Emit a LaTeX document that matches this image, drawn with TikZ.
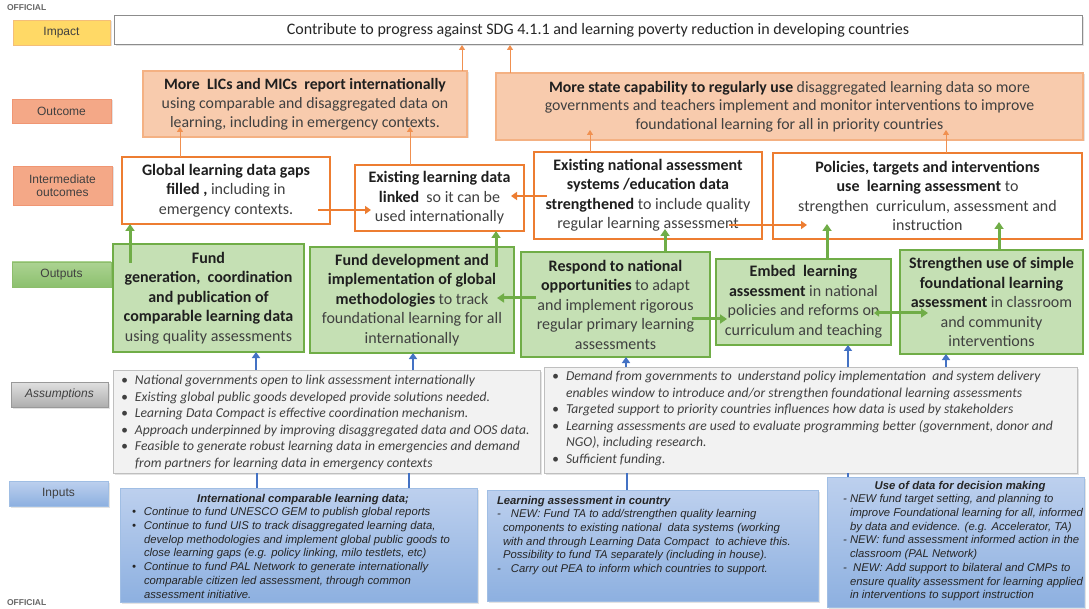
\documentclass[tikz,border=0pt]{standalone}
\usepackage{fontspec}
\setmainfont{Carlito}
\newfontfamily\arialf{Liberation Sans}
\usetikzlibrary{arrows.meta,shadows}

\definecolor{ioorange}{RGB}{237,125,49}
\definecolor{ocfill}{RGB}{248,203,173}
\definecolor{ocdraw}{RGB}{244,177,131}
\definecolor{salmon}{RGB}{244,168,135}
\definecolor{salmondraw}{RGB}{240,150,115}
\definecolor{outgreen}{RGB}{112,173,71}
\definecolor{outfill}{RGB}{197,224,180}
\definecolor{asmfill}{RGB}{242,242,242}
\definecolor{asmdraw}{RGB}{191,191,191}
\definecolor{arrblue}{RGB}{68,114,196}
\definecolor{intop}{RGB}{189,208,238}
\definecolor{inbot}{RGB}{141,176,224}
\definecolor{indraw}{RGB}{160,190,228}
\definecolor{txt}{RGB}{64,64,64}
\definecolor{darktxt}{RGB}{38,38,38}
\definecolor{impyellow}{RGB}{255,217,102}
\definecolor{impdraw}{RGB}{244,190,120}

% bold lead-in words
\newcommand{\hb}[1]{{\bfseries\color{black!88}#1}}
% bullet and continuation indents for the lists
\newcommand{\bul}{\makebox[14pt][l]{\textbullet}}
\newcommand{\cont}{\hspace*{14pt}}
\newcommand{\inbul}{\makebox[12pt][l]{\textbullet}}
\newcommand{\incont}{\hspace*{12pt}}
\newcommand{\dshA}{\makebox[14pt][l]{-}}
\newcommand{\dcontA}{\hspace*{6pt}}
\newcommand{\dshB}{\makebox[7pt][l]{-}}
\newcommand{\dcontB}{\hspace*{7pt}}
% box placed by its top-left and bottom-right corners
\newcommand{\rbox}[7]{\node[#1, anchor=north west, minimum width={#5-#3}, minimum height={#6-#4}] (#2) at (#3,#4) {#7};}

\tikzset{
  every node/.style={inner sep=0pt, outer sep=0pt, text=txt},
  softshadow/.style={drop shadow={opacity=0.22, shadow xshift=1.5pt, shadow yshift=-1.5pt}},
  lbl/.style={font=\arialf\fontsize{12}{13.5}\selectfont, align=center, text=txt, line width=0.8pt, softshadow},
  impbox/.style={draw=black!45, line width=1pt, fill=white, font=\fontsize{16}{19}\selectfont, text=darktxt, softshadow},
  ocbox/.style={draw=ocdraw, fill=ocfill, line width=1.2pt, align=center, font=\fontsize{15.8}{19}\selectfont, softshadow},
  iobox/.style={draw=ioorange, fill=white, line width=2.4pt, align=center, font=\fontsize{16}{19.5}\selectfont},
  outbox/.style={draw=outgreen, fill=outfill, line width=2.8pt, align=center, font=\fontsize{16}{19.5}\selectfont},
  asmbox/.style={draw=asmdraw, fill=asmfill, line width=0.8pt, softshadow},
  asmtext/.style={align=left, font=\itshape\fontsize{13.6}{16.6}\selectfont, text=txt},
  inbox/.style={draw=indraw, top color=intop, bottom color=inbot, line width=0.8pt, softshadow},
  intext/.style={align=left, font=\arialf\itshape\fontsize{11.3}{13.7}\selectfont, text=darktxt},
  thinarrow/.style={draw=ioorange!85, line width=1pt, -{Triangle[width=6pt,length=5pt]}},
  oarrow/.style={draw=ioorange, line width=2.2pt, -{Triangle[width=8pt,length=6pt]}},
  garrow/.style={draw=outgreen, line width=3pt, -{Triangle[width=9pt,length=7pt]}},
  gdarrow/.style={draw=outgreen, line width=3pt, {Triangle[width=7pt,length=5pt]}-{Triangle[width=9pt,length=7pt]}},
  barrow/.style={draw=arrblue, line width=2.5pt, -{Triangle[width=8pt,length=6pt]}},
  bline/.style={draw=arrblue, line width=2.5pt},
  official/.style={font=\arialf\bfseries\fontsize{8.5}{9}\selectfont, text=black!60, anchor=west}
}

\begin{document}
\begin{tikzpicture}[x=1pt,y=-1pt]
\useasboundingbox (0,0) rectangle (1089,609);
\fill[white] (0,0) rectangle (1089,609);

\node[official] (offtop) at (7,8) {OFFICIAL};
\node[official] (offbot) at (7,603) {OFFICIAL};

% ---------- row labels ----------
\rbox{lbl, draw=impdraw, fill=impyellow}{limp}{13}{20}{110}{45}{Impact}
\rbox{lbl, draw=salmondraw, fill=salmon}{loc}{12}{99}{111}{123}{Outcome}
\rbox{lbl, draw=salmondraw, fill=salmon}{lio}{13}{166}{112}{205}{Intermediate\\outcomes}
\rbox{lbl, draw=outgreen!80, top color={rgb,255:red,172;green,211;blue,146}, bottom color={rgb,255:red,140;green,192;blue,110}}{lout}{12}{262}{111}{287}{Outputs}
\rbox{lbl, draw=black!40, top color=black!12, bottom color=black!32, font=\arialf\itshape\fontsize{12}{13.5}\selectfont}{lasm}{11}{382}{108}{407}{Assumptions}
\rbox{lbl, draw=indraw, top color=intop, bottom color=inbot}{lin}{9}{481}{108}{506}{Inputs}

% ---------- impact ----------
\rbox{impbox}{imp}{114}{16}{1082}{45}{Contribute to progress against SDG 4.1.1 and learning poverty reduction in developing countries}

% ---------- outcomes ----------
\rbox{ocbox}{oc1}{143}{71}{467}{137}{\hb{More\ \ LICs and MICs\ \ report internationally}\\using comparable and disaggregated data on\\learning, including in emergency contexts.}
\rbox{ocbox, font=\fontsize{15.8}{18.5}\selectfont}{oc2}{496}{73}{1083}{140}{\hb{More state capability to regularly use} disaggregated learning data so more\\governments and teachers implement and monitor interventions to improve\\foundational learning for all in priority countries}

% ---------- intermediate outcomes ----------
\rbox{iobox}{io1}{122}{157}{330}{224}{\hb{Global learning data gaps}\\\hb{filled ,} including in\\emergency contexts.}
\rbox{iobox}{io2}{355}{165}{524}{231}{\hb{Existing learning data}\\\hb{linked}\ \ so it can be\\used internationally}
\rbox{iobox}{io3}{534}{152}{762}{239}{\hb{Existing national assessment}\\\hb{systems /education data}\\\hb{strengthened} to include quality\\regular learning assessment}
\rbox{iobox}{io4}{773}{153}{1082}{239}{\hb{Policies, targets and interventions}\\\hb{use\ \ learning assessment} to\\strengthen\ \ curriculum, assessment and\\instruction}

% ---------- outputs ----------
\rbox{outbox}{o1}{113}{244}{304}{352}{\hb{Fund}\\\hb{generation,\ \ coordination}\\\hb{and publication of}\\\hb{comparable learning data}\\using quality assessments}
\rbox{outbox}{o2}{310}{247}{514}{353}{\hb{Fund development and}\\\hb{implementation of global}\\\hb{methodologies} to track\\foundational learning for all\\internationally}
\rbox{outbox}{o3}{521}{252}{710}{357}{\hb{Respond to national}\\\hb{opportunities} to adapt\\and implement rigorous\\regular primary learning\\assessments}
\rbox{outbox}{o4}{716}{259}{891}{345}{\hb{Embed\ \ learning}\\\hb{assessment} in national\\policies and reforms on\\curriculum and teaching}
\rbox{outbox}{o5}{900}{250}{1083}{354}{\hb{Strengthen use of simple}\\\hb{foundational learning}\\\hb{assessment} in classroom\\and community\\interventions}

% ---------- assumptions ----------
\rbox{asmbox}{asmL}{113}{370}{540}{473}{}
\rbox{asmbox}{asmR}{544}{367}{1077}{473}{}
\node[asmtext, anchor=north west] (asmLt) at ([xshift=8pt,yshift=-5pt]asmL.north west) {%
\bul National governments open to link assessment internationally\\
\bul Existing global public goods developed provide solutions needed.\\
\bul Learning Data Compact is effective coordination mechanism.\\
\bul Approach underpinned by improving disaggregated data and OOS data.\\
\bul Feasible to generate robust learning data in emergencies and demand\\
\cont from partners for learning data in emergency contexts};
\node[asmtext, anchor=north west] (asmRt) at ([xshift=8pt,yshift=-4pt]asmR.north west) {%
\bul Demand from governments to\ \ understand policy implementation\ \ and system delivery\\
\cont enables window to introduce and/or strengthen foundational learning assessments\\
\bul Targeted support to priority countries influences how data is used by stakeholders\\
\bul Learning assessments are used to evaluate programming better (government, donor and\\
\cont NGO), including research.\\
\bul Sufficient funding.};

% ---------- inputs ----------
\rbox{inbox}{in1}{120}{488}{477}{602}{}
\rbox{inbox}{in2}{487}{490}{818}{601}{}
\rbox{inbox}{in3}{827}{477}{1084}{607}{}
\node[intext, anchor=north west] (in1t) at ([xshift=12pt,yshift=-6pt]in1.north west) {%
\makebox[342pt][c]{\bfseries International comparable learning data;}\\
\inbul Continue to fund UNESCO GEM to publish global reports\\
\inbul Continue to fund UIS to track disaggregated learning data,\\
\incont develop methodologies and implement global public goods to\\
\incont close learning gaps (e.g. policy linking, milo testlets, etc)\\
\inbul Continue to fund PAL Network to generate internationally\\
\incont comparable citizen led assessment, through common\\
\incont assessment initiative.};
\node[intext, anchor=north west] (in2t) at ([xshift=10pt,yshift=-6pt]in2.north west) {%
{\bfseries Learning assessment in country}\\
\dshA NEW: Fund TA to add/strengthen quality learning\\
\dcontA components to existing national\ \ data systems (working\\
\dcontA with and through Learning Data Compact\ \ to achieve this.\\
\dcontA Possibility to fund TA separately (including in house).\\
\dshA Carry out PEA to inform which countries to support.};
\node[intext, anchor=north west] (in3t) at ([xshift=16pt,yshift=-4pt]in3.north west) {%
\makebox[234pt][c]{\bfseries Use of data for decision making}\\
\dshB NEW fund target setting, and planning to\\
\dcontB improve Foundational learning for all, informed\\
\dcontB by data and evidence. (e.g. Accelerator, TA)\\
\dshB NEW: fund assessment informed action in the\\
\dcontB classroom (PAL Network)\\
\dshB\ NEW: Add support to bilateral and CMPs to\\
\dcontB ensure quality assessment for learning applied\\
\dcontB in interventions to support instruction};

% ---------- outcomes to impact ----------
\draw[thinarrow] ([xshift=319pt]oc1.north west) -- ([xshift=348pt]imp.south west);
\draw[thinarrow] ([xshift=14pt]oc2.north west) -- ([xshift=396pt]imp.south west);

% ---------- intermediate outcomes to outcomes ----------
\draw[thinarrow] ([xshift=58pt]io1.north west) -- ([xshift=37pt,yshift=-56pt]oc1.north west);
\draw[thinarrow] ([xshift=55pt]io2.north west) -- ([xshift=267pt,yshift=-56pt]oc1.north west);
\draw[thinarrow] ([xshift=56pt]io3.north west) -- ([xshift=94pt,yshift=-57pt]oc2.north west);
\draw[thinarrow] ([xshift=173pt]io4.north west) -- ([xshift=450pt,yshift=-57pt]oc2.north west);

% ---------- links between intermediate outcomes ----------
\draw[oarrow] ([xshift=196pt,yshift=-53pt]io1.north west) -- ([xshift=16pt,yshift=-45pt]io2.north west);
\draw[oarrow] ([xshift=13pt,yshift=-44pt]io3.north west) -- ([xshift=156pt,yshift=-31pt]io2.north west);
\draw[oarrow] ([xshift=195pt,yshift=-73pt]io3.north west) -- ([xshift=34pt,yshift=-72pt]io4.north west);

% ---------- outputs to intermediate outcomes ----------
\draw[garrow] ([xshift=17pt,yshift=-19pt]o1.north west) -- ([xshift=8pt]io1.south west);
\draw[garrow] ([xshift=186pt,yshift=-20pt]o2.north west) -- ([xshift=141pt]io2.south west);
\draw[garrow] ([xshift=144pt]o3.north west) -- ([xshift=131pt,yshift=-77pt]io3.north west);
\draw[garrow] ([xshift=111pt]o4.north west) -- ([xshift=54pt,yshift=-71pt]io4.north west);
\draw[garrow] ([xshift=99pt]o5.north west) -- ([xshift=226pt,yshift=-69pt]io4.north west);

% ---------- links between outputs ----------
\draw[garrow] ([xshift=15pt,yshift=-46pt]o3.north west) -- ([xshift=187pt,yshift=-51pt]o2.north west);
\draw[garrow] ([xshift=171pt,yshift=-67pt]o3.north west) -- ([xshift=11pt,yshift=-60pt]o4.north west);
\draw[gdarrow] ([xshift=158pt,yshift=-54pt]o4.north west) -- ([xshift=28pt,yshift=-63pt]o5.north west);

% ---------- assumptions to outputs ----------
\draw[barrow] ([xshift=143pt]asmL.north west) -- ([xshift=143pt]o1.south west);
\draw[barrow] ([xshift=300pt]asmL.north west) -- ([xshift=103pt]o2.south west);
\draw[barrow] ([xshift=82pt]asmR.north west) -- ([xshift=105pt]o3.south west);
\draw[barrow] ([xshift=304pt]asmR.north west) -- ([xshift=132pt]o4.south west);
\draw[barrow] ([xshift=402pt]asmR.north west) -- ([xshift=46pt]o5.south west);

% ---------- inputs to assumptions ----------
\draw[bline] ([xshift=137pt]in1.north west) -- ([xshift=144pt]asmL.south west);
\draw[bline] ([xshift=289pt]in1.north west) -- ([xshift=296pt]asmL.south west);
\draw[bline] ([xshift=140pt]in2.north west) -- ([xshift=83pt]asmR.south west);
\draw[bline] ([xshift=21pt]in3.north west) -- ([xshift=304pt]asmR.south west);
\end{tikzpicture}
\end{document}
